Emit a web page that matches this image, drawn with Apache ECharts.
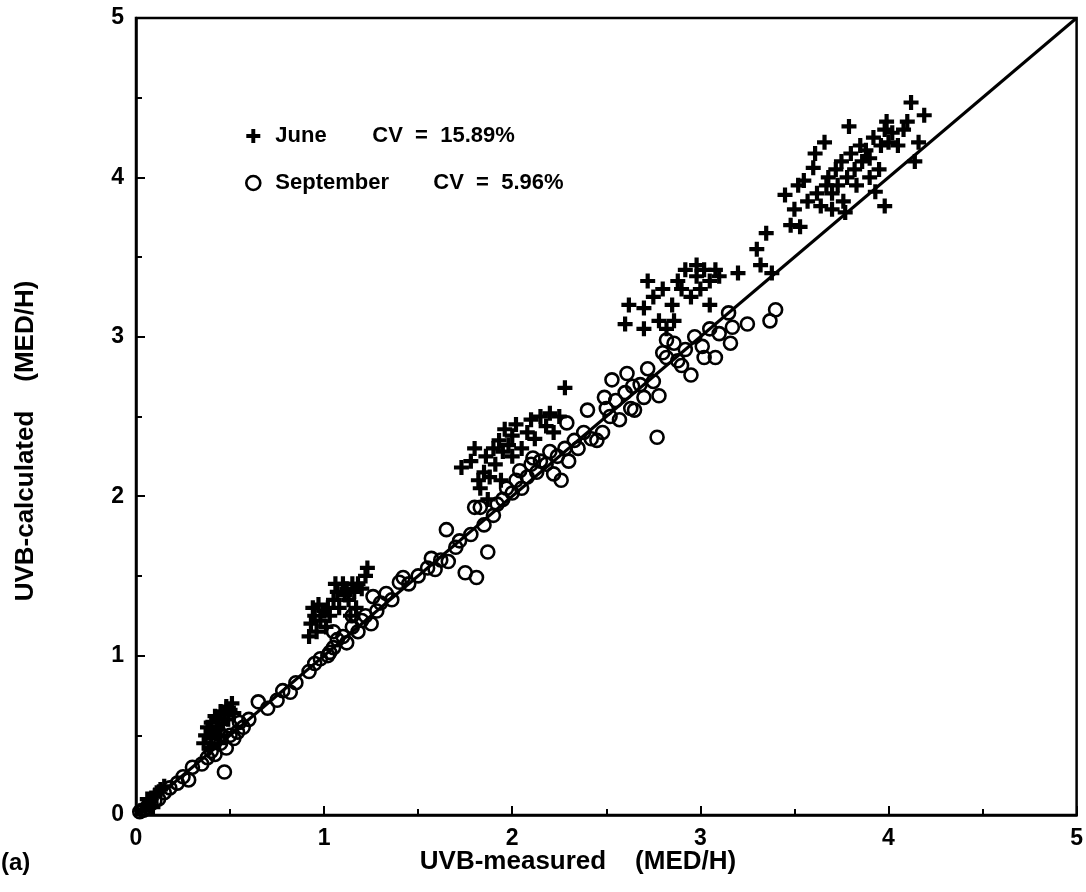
<!DOCTYPE html>
<html><head><meta charset="utf-8">
<script src="https://cdn.jsdelivr.net/npm/echarts@6/dist/echarts.min.js"></script>
<style>html,body{margin:0;padding:0;background:#fff}#c{width:1086px;height:892px}</style>
</head><body><div id="c"></div>
<script>
var xTicks = [0,1,2,3,4,5];
var yTicks = [0,1,2,3,4,5];
var xTitle = 'UVB-measured    (MED/H)';
var yTitle = 'UVB-calculated    (MED/H)';
var legendLabels = {June: 'CV  =  15.89%', September: 'CV  =  5.96%'};
var refLine = [[0,0],[5,5]];

var juneData = [
 [0.03,0.03],[0.05,0.06],[0.07,0.08],[0.08,0.1],[0.1,0.12],[0.11,0.14],[0.13,0.16],[0.15,0.18],[0.06,0.1],[0.09,0.05],
 [0.36,0.45],[0.37,0.5],[0.38,0.55],[0.4,0.48],[0.4,0.58],[0.41,0.52],[0.42,0.62],[0.43,0.55],[0.44,0.6],[0.45,0.65],
 [0.45,0.5],[0.46,0.57],[0.47,0.63],[0.48,0.68],[0.49,0.6],[0.5,0.66],[0.51,0.7],[0.52,0.64],[0.39,0.42],[0.44,0.45],
 [0.92,1.12],[0.93,1.2],[0.94,1.3],[0.95,1.25],[0.96,1.15],[0.97,1.32],[0.98,1.22],[1.0,1.28],[1.01,1.18],[1.02,1.3],
 [1.03,1.25],[1.05,1.35],[1.07,1.4],[1.08,1.3],[1.1,1.45],[1.11,1.38],[1.12,1.42],[1.13,1.35],[1.15,1.45],[1.16,1.4],
 [1.17,1.3],[1.18,1.45],[1.2,1.42],[1.22,1.5],[1.23,1.55],[1.14,1.25],[1.06,1.45],
 [1.73,2.18],[1.78,2.22],[1.8,2.3],[1.82,2.1],[1.83,2.05],[1.85,2.15],[1.86,2.25],[1.88,2.12],[1.9,2.3],[1.91,2.2],
 [1.93,2.35],[1.95,2.28],[1.96,2.42],[1.98,2.32],[2.0,2.38],[2.0,2.25],[2.02,2.45],[2.05,2.3],[2.08,2.4],[2.1,2.48],
 [2.12,2.36],[2.15,2.5],[2.18,2.44],[2.2,2.52],[2.22,2.4],[2.25,2.5],[1.87,1.98],[1.94,2.1],[2.28,2.68],
 [2.6,3.08],[2.62,3.2],[2.7,3.18],[2.72,3.35],[2.75,3.25],[2.78,3.1],[2.8,3.3],[2.85,3.2],[2.88,3.35],[2.9,3.3],
 [2.92,3.42],[2.95,3.25],[2.98,3.38],[3.0,3.3],[3.02,3.42],[3.05,3.35],[3.08,3.42],[3.1,3.38],[2.82,3.05],[2.86,3.1],
 [3.05,3.2],[2.7,3.05],[2.98,3.45],[3.2,3.4],[3.3,3.55],[3.35,3.65],[3.32,3.45],[3.38,3.4],
 [3.45,3.89],[3.48,3.7],[3.5,3.8],[3.52,3.95],[3.53,3.69],[3.55,3.98],[3.57,3.85],[3.6,4.06],[3.61,4.15],[3.62,3.9],
 [3.64,3.82],[3.66,4.22],[3.67,3.95],[3.68,4.0],[3.7,3.8],[3.7,3.9],[3.72,4.05],[3.73,3.95],[3.75,4.1],[3.76,3.85],
 [3.77,3.78],[3.78,4.0],[3.79,4.32],[3.8,4.15],[3.82,4.05],[3.83,3.95],[3.85,4.2],[3.86,4.1],[3.88,4.17],[3.9,4.0],
 [3.9,4.12],[3.92,4.25],[3.93,3.91],[3.95,4.05],[3.96,4.2],[3.98,4.3],[3.99,4.35],[4.0,4.22],[4.02,4.28],[4.05,4.2],
 [4.08,4.3],[4.1,4.35],[4.12,4.47],[4.14,4.1],[4.16,4.22],[4.19,4.39],[3.98,3.82]
];

var septemberData = [
 [0.02,0.02],[0.04,0.03],[0.06,0.05],[0.08,0.07],[0.1,0.09],[0.12,0.1],[0.15,0.14],[0.18,0.17],[0.22,0.2],[0.25,0.24],
 [0.28,0.22],[0.3,0.3],
 [0.35,0.32],[0.38,0.36],[0.4,0.4],[0.42,0.38],[0.45,0.45],[0.47,0.27],[0.48,0.42],[0.5,0.5],[0.5,0.56],[0.52,0.48],
 [0.54,0.52],[0.55,0.58],[0.57,0.55],[0.6,0.6],[0.45,0.5],[0.42,0.55],
 [0.65,0.71],[0.7,0.67],[0.75,0.72],[0.78,0.78],[0.82,0.77],[0.85,0.83],[0.92,0.9],
 [0.95,0.95],[0.98,0.98],[1.03,1.02],[1.02,1.0],[1.05,1.05],[1.07,1.1],[1.1,1.12],[1.12,1.08],[1.15,1.18],[1.18,1.15],
 [1.2,1.22],[1.22,1.25],[1.26,1.37],[1.28,1.28],[1.3,1.33],[1.15,1.25],[1.05,1.15],[1.25,1.2],
 [1.33,1.39],[1.36,1.35],[1.4,1.46],[1.42,1.49],[1.45,1.45],[1.5,1.5],[1.55,1.55],[1.57,1.61],[1.59,1.54],[1.62,1.6],
 [1.65,1.79],[1.66,1.59],[1.7,1.68],[1.72,1.72],[1.75,1.52],[1.78,1.76],[1.8,1.93],[1.81,1.49],[1.83,1.93],[1.85,1.82],
 [1.87,1.65],[1.9,1.88],
 [1.92,1.95],[1.95,1.98],[1.97,2.05],[2.0,2.02],[2.02,2.1],[2.04,2.16],[2.05,2.05],[2.08,2.12],[2.1,2.2],[2.11,2.24],
 [2.13,2.15],[2.15,2.22],[2.18,2.2],[2.2,2.28],[2.22,2.14],[2.24,2.25],[2.26,2.1],[2.28,2.3],[2.29,2.46],[2.3,2.22],
 [2.33,2.35],[2.35,2.3],[2.38,2.4],[2.4,2.54],[2.42,2.36],[2.45,2.35],[2.48,2.4],[2.49,2.62],[2.5,2.55],
 [2.52,2.5],[2.53,2.73],[2.55,2.6],[2.57,2.48],[2.6,2.65],[2.61,2.77],[2.63,2.55],[2.64,2.69],[2.65,2.54],[2.68,2.7],
 [2.7,2.62],[2.72,2.8],[2.75,2.72],[2.77,2.37],[2.78,2.63],[2.8,2.9],[2.82,2.98],[2.82,2.87],[2.86,2.96],[2.88,2.85],
 [2.9,2.82],[2.92,2.92],[2.95,2.76],[2.97,3.0],[3.01,2.94],[3.02,2.87],[3.05,3.05],[3.08,2.87],[3.1,3.02],[3.15,3.15],
 [3.16,2.96],[3.17,3.06],[3.25,3.08],[3.37,3.1],[3.4,3.17]
];

var FONT = '"Liberation Sans", Arial, sans-serif';
var NARROW = '"Liberation Sans Narrow", "Liberation Sans", Arial, sans-serif';
var chart = echarts.init(document.getElementById('c'));
var plusPath = 'path://M3.6,0H6.4V3.6H10V6.4H6.4V10H3.6V6.4H0V3.6H3.6Z';

function axisCommon(ticks) {
  return {
    type: 'value', min: ticks[0], max: ticks[ticks.length-1], interval: 1,
    axisLine: {show: true, onZero: false, lineStyle: {color: '#000', width: 2.5}},
    axisTick: {show: true, inside: true, length: 9, lineStyle: {color: '#000', width: 2}},
    minorTick: {show: true, splitNumber: 2, length: 6, lineStyle: {color: '#000', width: 2}},
    splitLine: {show: false},
    axisLabel: {color: '#000', fontFamily: NARROW, fontWeight: 'bold', fontSize: 23}
  };
}
var xAxis = axisCommon(xTicks);
xAxis.axisLabel.margin = 12;
var yAxis = axisCommon(yTicks);
yAxis.axisLabel.margin = 12;

chart.setOption({
  animation: false,
  backgroundColor: '#fff',
  grid: {left: 136, right: 9, top: 18, bottom: 77, show: true, borderColor: '#000', borderWidth: 2.5, backgroundColor: 'transparent'},
  xAxis: xAxis,
  yAxis: yAxis,
  legend: {
    show: true, orient: 'vertical', left: 240, top: 120, itemGap: 25, itemWidth: 14, itemHeight: 14,
    data: [
      {name: 'June', icon: plusPath, itemStyle: {color: '#000'}},
      {name: 'September', icon: 'circle', itemStyle: {color: 'rgba(0,0,0,0)', borderColor: '#000', borderWidth: 2.6}}
    ],
    formatter: function (name) {
      return name === 'June' ? '{n1|June}{c|' + legendLabels.June + '}' : '{n2|September}{c|' + legendLabels.September + '}';
    },
    textStyle: {
      color: '#000', fontFamily: FONT, fontWeight: 'bold', fontSize: 22, padding: [0, 0, 0, 10],
      rich: {
        n1: {fontFamily: FONT, fontWeight: 'bold', fontSize: 22, color: '#000', width: 97},
        n2: {fontFamily: FONT, fontWeight: 'bold', fontSize: 22, color: '#000', width: 158},
        c: {fontFamily: FONT, fontWeight: 'bold', fontSize: 22, color: '#000'}
      }
    }
  },
  graphic: [
    {type: 'text', x: 1, y: 863, style: {text: '(a)', font: 'bold 24px ' + NARROW, fill: '#000', verticalAlign: 'middle'}},
    {type: 'text', x: 578, y: 862, style: {text: xTitle, font: 'bold 26px ' + NARROW, fill: '#000', align: 'center', verticalAlign: 'middle'}},
    {type: 'text', x: 26, y: 441, rotation: Math.PI / 2, style: {text: yTitle, font: 'bold 26px ' + NARROW, fill: '#000', align: 'center', verticalAlign: 'middle'}}
  ],
  series: [
    {name: 'line', type: 'line', data: refLine, symbol: 'none', lineStyle: {color: '#000', width: 3}, z: 3},
    {name: 'June', type: 'scatter', data: juneData, symbol: plusPath, symbolSize: 15,
     itemStyle: {color: '#000', opacity: 1}, z: 4},
    {name: 'September', type: 'scatter', data: septemberData, symbol: 'circle', symbolSize: 13,
     itemStyle: {color: 'rgba(0,0,0,0)', borderColor: '#000', borderWidth: 2.6, opacity: 1}, z: 4}
  ]
});
</script></body></html>
